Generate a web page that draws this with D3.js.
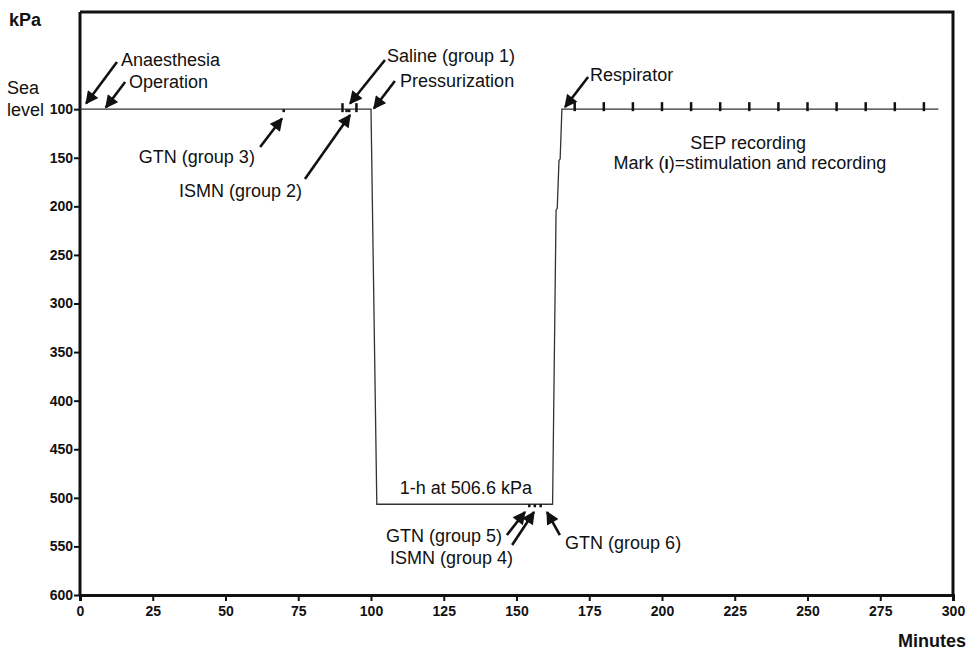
<!DOCTYPE html>
<html>
<head>
<meta charset="utf-8">
<script src="https://cdn.jsdelivr.net/npm/d3@7"></script>
<style>
  body { margin: 0; background: #fff; }
  svg { display: block; }
  .note { font-family: "Liberation Sans", Arial, sans-serif; font-size: 18px; fill: #111; }
  .tick text { font-family: "Liberation Sans Narrow", "Liberation Sans", Arial, sans-serif; font-weight: bold; font-size: 14px; fill: #111; }
</style>
</head>
<body>
<script>
// pressure profile (minutes, kPa)
const pressureMinutes = [0, 100, 102, 162.4, 163.6, 164.0, 164.6, 165.0, 165.6, 295];
const pressureKpa = [100, 100, 506.6, 506.6, 204, 202, 153, 151, 100, 100];

// SEP stimulation/recording marks
const sepMinutes = [170, 180, 190, 200, 210, 220, 230, 240, 250, 260, 270, 280, 290];

// drug injection marks
const injectionMinutes = [70, 90.2, 91.6, 92.5, 95, 154.4, 156.3, 158.3];
const injectionKpa = [100, 100, 100, 100, 100, 506.6, 506.6, 506.6];
const injectionKind = ["dot", "tick", "dot", "dot", "tick", "dot", "dot", "dot"];

const xTicks = [0, 25, 50, 75, 100, 125, 150, 175, 200, 225, 250, 275, 300];
const yTicks = [100, 150, 200, 250, 300, 350, 400, 450, 500, 550, 600];

// annotations: text position, arrow tail and tip, all in (minutes, kPa)
const notes = [
  {text: "Anaesthesia", at: [14.1, 48.4], anchor: "start", tail: [12.7, 51.5], tip: [2.1, 94.2]},
  {text: "Operation", at: [16.8, 72.0], anchor: "start", tail: [15.5, 72.0], tip: [8.9, 98.3]},
  {text: "GTN (group 3)", at: [60.1, 149.2], anchor: "end", tail: [61.9, 138.9], tip: [69.4, 109.6]},
  {text: "ISMN (group 2)", at: [76.3, 183.2], anchor: "end", tail: [77.3, 171.9], tip: [92.8, 106.0]},
  {text: "Saline (group 1)", at: [105.5, 44.3], anchor: "start", tail: [104.8, 49.4], tip: [92.8, 94.2]},
  {text: "Pressurization", at: [110.0, 70.0], anchor: "start", tail: [108.2, 71.0], tip: [101.0, 99.3]},
  {text: "Respirator", at: [175.3, 64.8], anchor: "start", tail: [174.6, 66.9], tip: [166.7, 97.8]},
  {text: "SEP recording", at: [229.6, 133.8], anchor: "middle"},
  {text: "1-h at 506.6 kPa", at: [132.6, 488.9], anchor: "middle"},
  {text: "GTN (group 5)", at: [145.0, 538.3], anchor: "end", tail: [146.7, 538.3], tip: [152.9, 514.6]},
  {text: "ISMN (group 4)", at: [148.8, 560.9], anchor: "end", tail: [148.5, 548.6], tip: [156.0, 514.6]},
  {text: "GTN (group 6)", at: [166.7, 545.5], anchor: "start", tail: [164.9, 538.3], tip: [160.5, 514.6]}
];

const width = 966, height = 650;
const margin = {top: 12, right: 13, bottom: 55, left: 80};

const svg = d3.select("body").append("svg")
  .attr("width", width)
  .attr("height", height);

const x = d3.scaleLinear().domain([0, 300]).range([margin.left, width - margin.right]);
const y = d3.scaleLinear().domain([0, 600]).range([margin.top, height - margin.bottom]);

svg.append("defs").append("marker")
  .attr("id", "head")
  .attr("viewBox", "0 0 10 10")
  .attr("refX", 9)
  .attr("refY", 5)
  .attr("markerWidth", 5.5)
  .attr("markerHeight", 5)
  .attr("markerUnits", "strokeWidth")
  .attr("orient", "auto")
  .append("path")
  .attr("d", "M0,0L10,5L0,10z")
  .attr("fill", "#111");

// frame (top and right)
svg.append("path")
  .attr("d", `M${x(0)},${y(0)}H${x(300)}V${y(600)}`)
  .attr("fill", "none")
  .attr("stroke", "#111")
  .attr("stroke-width", 3);

// axes
const xAxis = svg.append("g")
  .attr("transform", `translate(0,${y(600)})`)
  .call(d3.axisBottom(x).tickValues(xTicks).tickSize(6).tickPadding(5));
const yAxis = svg.append("g")
  .attr("transform", `translate(${x(0)},0)`)
  .call(d3.axisLeft(y).tickValues(yTicks).tickSize(6).tickPadding(1));
[xAxis, yAxis].forEach(g => {
  g.select(".domain").attr("stroke", "#111").attr("stroke-width", 3);
  g.selectAll(".tick line").attr("stroke", "#111").attr("stroke-width", 2);
});
yAxis.select(".domain").attr("d", `M0,${y(0)}V${y(600)}`);

// pressure line
const line = d3.line().x(i => x(pressureMinutes[i])).y(i => y(pressureKpa[i]));
svg.append("path")
  .attr("d", line(d3.range(pressureMinutes.length)))
  .attr("fill", "none")
  .attr("stroke", "#333")
  .attr("stroke-width", 1.3);

// SEP marks
svg.append("g").selectAll("line")
  .data(sepMinutes)
  .join("line")
  .attr("x1", d => x(d)).attr("x2", d => x(d))
  .attr("y1", y(100) - 7).attr("y2", y(100) + 2)
  .attr("stroke", "#111")
  .attr("stroke-width", 2.5);

// injection marks
svg.append("g").selectAll("line")
  .data(d3.range(injectionMinutes.length))
  .join("line")
  .attr("x1", i => x(injectionMinutes[i])).attr("x2", i => x(injectionMinutes[i]))
  .attr("y1", i => injectionKind[i] === "tick" ? y(injectionKpa[i]) - 6 : y(injectionKpa[i]))
  .attr("y2", i => y(injectionKpa[i]) + 3)
  .attr("stroke", "#111")
  .attr("stroke-width", 2.5);

// annotations
notes.forEach(n => {
  if (n.tail) {
    svg.append("line")
      .attr("x1", x(n.tail[0])).attr("y1", y(n.tail[1]))
      .attr("x2", x(n.tip[0])).attr("y2", y(n.tip[1]))
      .attr("stroke", "#111")
      .attr("stroke-width", 2.6)
      .attr("marker-end", "url(#head)");
  }
  svg.append("text")
    .attr("class", "note")
    .attr("x", x(n.at[0]))
    .attr("y", y(n.at[1]) + 6.5)
    .attr("text-anchor", n.anchor)
    .text(n.text);
});

const mark = svg.append("text")
  .attr("class", "note")
  .attr("x", x(230.2))
  .attr("y", y(154.4) + 6.5)
  .attr("text-anchor", "middle");
mark.append("tspan").text("Mark (");
mark.append("tspan").attr("font-weight", "bold").attr("font-size", 15).text("I");
mark.append("tspan").text(")=stimulation and recording");

// axis titles
svg.append("text").attr("class", "note").attr("x", 9).attr("y", 26)
  .attr("font-weight", "bold").attr("font-size", 17).text("kPa");
svg.append("text").attr("class", "note").attr("x", 7).attr("y", 94).text("Sea");
svg.append("text").attr("class", "note").attr("x", 7).attr("y", 116).text("level");
svg.append("text").attr("class", "note").attr("x", 898).attr("y", 647)
  .attr("font-weight", "bold").attr("font-size", 16).text("Minutes");
</script>
</body>
</html>
